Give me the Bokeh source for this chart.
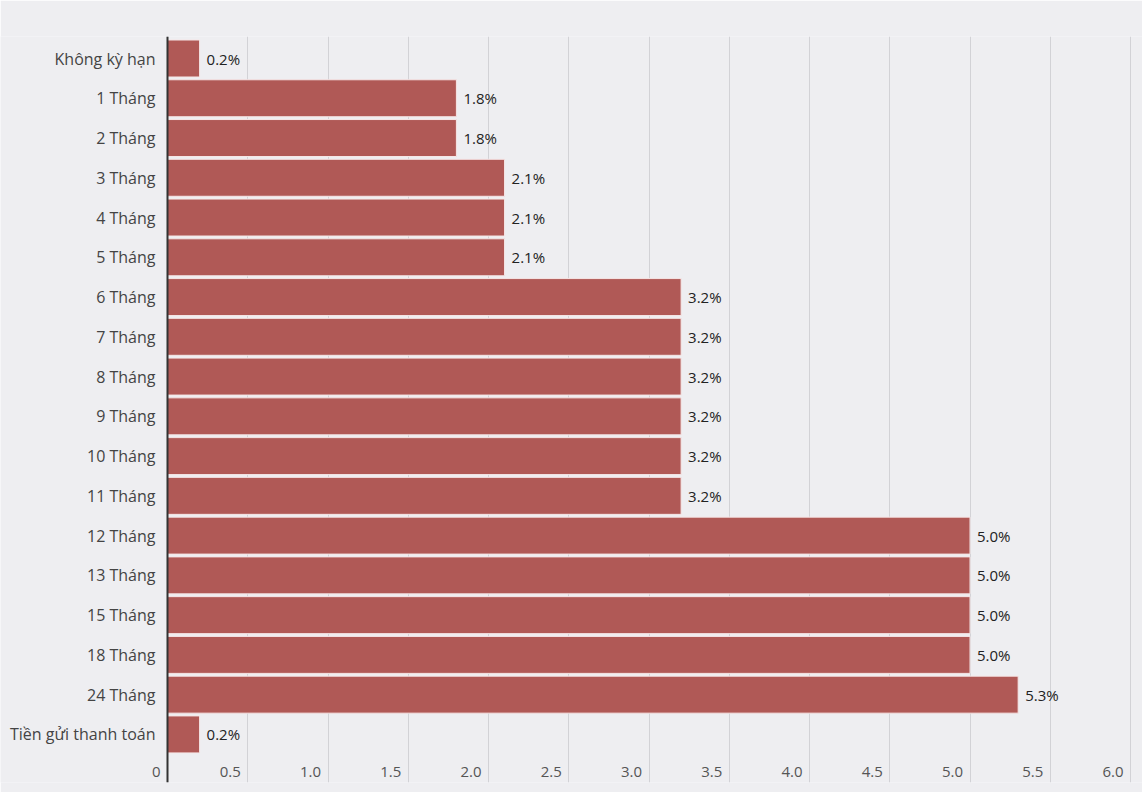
from bokeh.plotting import figure
from bokeh.models import ColumnDataSource, FixedTicker
from bokeh.core.properties import value
from bokeh.embed import file_html
from bokeh.resources import INLINE

categories = ["Không kỳ hạn", "1 Tháng", "2 Tháng", "3 Tháng", "4 Tháng", "5 Tháng",
              "6 Tháng", "7 Tháng", "8 Tháng", "9 Tháng", "10 Tháng", "11 Tháng",
              "12 Tháng", "13 Tháng", "15 Tháng", "18 Tháng", "24 Tháng", "Tiền gửi thanh toán"]
rates = [0.2, 1.8, 1.8, 2.1, 2.1, 2.1, 3.2, 3.2, 3.2, 3.2, 3.2, 3.2, 5.0, 5.0, 5.0, 5.0, 5.3, 0.2]
x_ticks = [0, 0.5, 1.0, 1.5, 2.0, 2.5, 3.0, 3.5, 4.0, 4.5, 5.0, 5.5, 6.0]
x_tick_labels = ["0", "0.5", "1.0", "1.5", "2.0", "2.5", "3.0", "3.5", "4.0", "4.5", "5.0", "5.5", "6.0"]

FONT = "Open Sans"
BG = "#eeeef1"
BAR = "#b05956"

n = len(categories)
ypos = [n - 1 - i for i in range(n)]

src = ColumnDataSource(dict(
    y=ypos, x=rates, cat=categories,
    lbl=[f"{r:.1f}%" for r in rates],
    zero=[0] * n,
))
tick_src = ColumnDataSource(dict(x=x_ticks, t=x_tick_labels, y=[-0.956] * len(x_ticks)))

W, H = 1142, 792
px_per_unit = 160.5
x_start = -167 / px_per_unit
x_end = x_start + W / px_per_unit
pitch = 39.76
y_top = (n - 1) + 22 / pitch
y_bot = y_top - (782 - 36) / pitch

p = figure(width=W, height=H, output_backend="svg", toolbar_location=None,
           x_range=(x_start, x_end), y_range=(y_bot, y_top),
           min_border_left=0, min_border_right=0, min_border_top=36, min_border_bottom=10,
           background_fill_color=BG, border_fill_color=BG, outline_line_color=None)
p.xaxis.visible = False
p.yaxis.visible = False
p.xgrid.ticker = FixedTicker(ticks=x_ticks)
p.xgrid.grid_line_color = "#d2d2d6"
p.xgrid.grid_line_width = 1
p.ygrid.grid_line_color = None

p.hbar(y="y", left=0, right="x", height=0.93, source=src,
       fill_color=BAR, line_color="#f6e6e6", line_width=1)

# axis line at zero
p.segment(x0=[0], y0=[y_bot], x1=[0], y1=[y_top], line_color="#333333", line_width=2)

p.text(x="zero", y="y", text="cat", source=src, x_offset=-12,
       text_align="right", text_baseline="middle", text_font=value(FONT),
       text_font_size="16px", text_color="#444444")
p.text(x="x", y="y", text="lbl", source=src, x_offset=7,
       text_align="left", text_baseline="middle", text_font=value(FONT),
       text_font_size="15px", text_color="#222222")
p.text(x="x", y="y", text="t", source=tick_src, x_offset=-7,
       text_align="right", text_baseline="middle", text_font=value(FONT),
       text_font_size="15px", text_color="#555555")

open("out.html", "w").write(file_html(p, INLINE))
